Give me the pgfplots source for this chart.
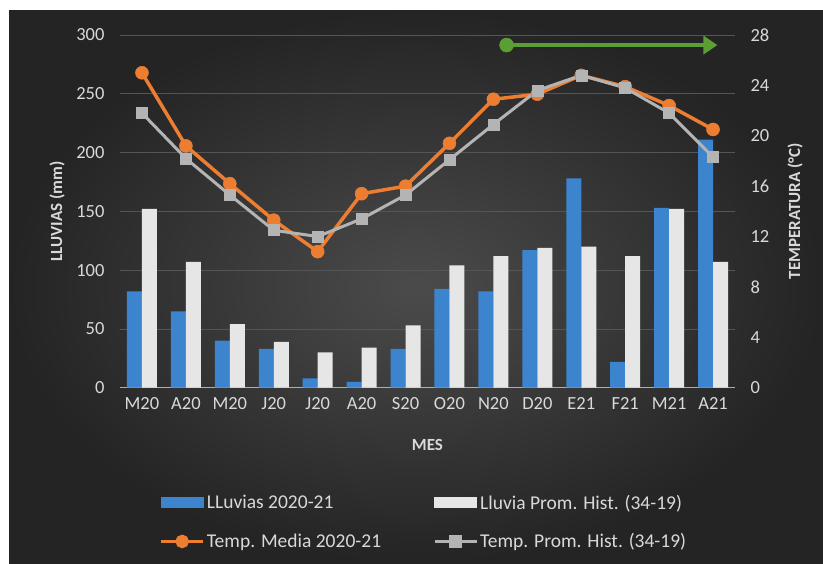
\documentclass[border=0pt]{standalone}
\usepackage{pgfplots}
\pgfplotsset{compat=1.18}
\usepackage{fontspec}
\setmainfont{Carlito}
\usetikzlibrary{arrows.meta}

\definecolor{bgin}{HTML}{4B4B4B}
\definecolor{bgout}{HTML}{242424}
\definecolor{gridc}{HTML}{555555}
\definecolor{txt}{HTML}{D9D9D9}
\definecolor{blueb}{HTML}{3D84CE}
\definecolor{whbar}{HTML}{E6E6E6}
\definecolor{orng}{HTML}{ED7D31}
\definecolor{gry}{HTML}{B4B4B4}
\definecolor{grn}{HTML}{5A9E34}

\begin{document}
\begin{tikzpicture}
  \fill[white] (0pt,0pt) rectangle (823pt,563pt);
  \shade[inner color=bgin, outer color=bgout] (9pt,0pt) rectangle (823pt,552pt);

  % rainfall (left axis)
  \begin{axis}[
      at={(120pt,175.3pt)}, anchor=south west,
      scale only axis, width=615pt, height=352.7pt,
      xmin=-0.5, xmax=13.5, ymin=0, ymax=300,
      ytick={0,50,...,300},
      xtick={0,...,13},
      xticklabels={M20,A20,M20,J20,J20,A20,S20,O20,N20,D20,E21,F21,M21,A21},
      ybar=0pt, bar width=15pt,
      axis x line*=bottom, axis y line*=left,
      y axis line style={draw=none},
      x axis line style={draw=txt!80!black, line width=1.2pt, -},
      major tick length=0pt,
      ymajorgrids, grid style={gridc, line width=0.8pt},
      tick label style={font=\fontsize{18.5}{20}\selectfont, text=txt},
      /pgf/number format/assume math mode=true,
      xticklabel style={yshift=-6pt},
      yticklabel style={xshift=-12pt},
      xlabel={\textbf{MES}}, ylabel={\textbf{LLUVIAS (mm)}},
      label style={font=\fontsize{17}{19}\selectfont, text=txt},
      xlabel style={at={(rel axis cs:0.5,-0.162)}, anchor=center},
      ylabel style={at={(rel axis cs:-0.1024,0.5)}, anchor=center},
    ]
    \addplot[draw=none, fill=blueb]
      coordinates {(0,82) (1,65) (2,40) (3,33) (4,8) (5,5) (6,33)
                   (7,84) (8,82) (9,117) (10,178) (11,22) (12,153) (13,211)};
    \addplot[draw=none, fill=whbar]
      coordinates {(0,152) (1,107) (2,54) (3,39) (4,30) (5,34) (6,53)
                   (7,104) (8,112) (9,119) (10,120) (11,112) (12,152) (13,107)};
  \end{axis}

  % temperature (right axis)
  \begin{axis}[
      at={(120pt,175.3pt)}, anchor=south west,
      scale only axis, width=615pt, height=352.7pt,
      xmin=-0.5, xmax=13.5, ymin=0, ymax=28,
      ytick={0,4,...,28},
      axis x line=none, axis y line*=right,
      y axis line style={draw=none},
      major tick length=0pt,
      tick label style={font=\fontsize{18.5}{20}\selectfont, text=txt},
      /pgf/number format/assume math mode=true,
      yticklabel style={xshift=12pt},
      ylabel={\textbf{TEMPERATURA (°C)}},
      label style={font=\fontsize{17}{19}\selectfont, text=txt},
      ylabel style={at={(rel axis cs:1.0976,0.5)}, anchor=center},
      legend columns=2,
      legend style={at={(rel axis cs:0.494,-0.381)}, anchor=center,
        draw=none, fill=none, text=txt,
        font=\fontsize{19.5}{21}\selectfont,
        /tikz/every even column/.append style={column sep=50pt},
        row sep=19pt},
      legend cell align=left,
    ]
    \addlegendimage{legend image code/.code={
        \fill[blueb] (0pt,-5pt) rectangle (42pt,5pt);}}
    \addlegendentry{LLuvias 2020-21}
    \addlegendimage{legend image code/.code={
        \fill[whbar] (0pt,-5pt) rectangle (42pt,5pt);}}
    \addlegendentry{Lluvia Prom. Hist. (34-19)}

    \addplot[orng, line width=3.5pt, mark=*, mark size=6.5pt,
        mark options={fill=orng, draw=orng, line width=0.5pt},
        legend image code/.code={
          \draw[orng, line width=3.5pt] (0pt,0pt) -- (42pt,0pt);
          \fill[orng] (21pt,0pt) circle (5pt);}]
      coordinates {(0,25.0) (1,19.2) (2,16.2) (3,13.3) (4,10.8) (5,15.4) (6,16.0)
                   (7,19.4) (8,22.9) (9,23.3) (10,24.8) (11,23.9) (12,22.4) (13,20.5)};
    \addlegendentry{Temp. Media 2020-21}

    \addplot[gry, line width=3pt, mark=square*, mark size=5.5pt,
        mark options={fill=gry, draw=gry, line width=0.5pt},
        legend image code/.code={
          \draw[gry, line width=3pt] (0pt,0pt) -- (42pt,0pt);
          \fill[gry] (16pt,-5pt) rectangle (26pt,5pt);}]
      coordinates {(0,21.8) (1,18.2) (2,15.3) (3,12.5) (4,12.0) (5,13.4) (6,15.3)
                   (7,18.1) (8,20.9) (9,23.6) (10,24.8) (11,23.8) (12,21.8) (13,18.3)};
    \addlegendentry{Temp. Prom. Hist. (34-19)}

    % green arrow annotation
    \addplot[grn, line width=4pt, -{Triangle[length=14pt, width=18pt]},
        mark=*, mark size=7pt, mark indices={1},
        mark options={fill=grn, draw=grn, line width=0.5pt}, forget plot]
      coordinates {(8.3,27.2) (13.1,27.2)};
  \end{axis}
  \pgfresetboundingbox
  \useasboundingbox (0pt,0pt) rectangle (823pt,563pt);
\end{tikzpicture}
\end{document}
